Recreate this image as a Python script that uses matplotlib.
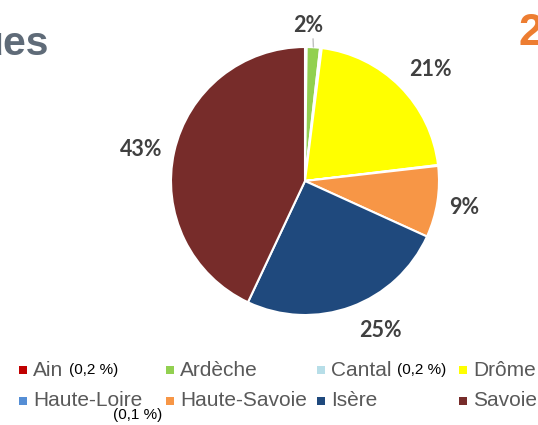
import matplotlib.pyplot as plt
import numpy as np
from matplotlib.patches import Rectangle

# data
departements = ['Ain', 'Ardèche', 'Cantal', 'Drôme', 'Haute-Loire', 'Haute-Savoie', 'Isère', 'Savoie']
parts = [0.2, 1.6, 0.2, 21.1, 0.1, 8.6, 25.2, 43.0]
couleurs = ['#C00000', '#92D050', '#B7DEE8', '#FFFF00', '#558ED5', '#F79646', '#1F497D', '#772C2A']
notes = ['(0,2 %)', '', '(0,2 %)', '', '(0,1 %)', '', '', '']
seuil_label = 1.0

# decalage des etiquettes (pixels) par rapport a la position radiale
decalages = {'Ardèche': (-5, 4), 'Drôme': (8, 6), 'Haute-Savoie': (-5, 1),
             'Isère': (18, -6), 'Savoie': (-2, 5)}

W, H = 538, 425
fig = plt.figure(figsize=(W / 100, H / 100), dpi=100)
fig.patch.set_facecolor('white')

def fx(px):
    return px / W

def fy(py):
    return 1 - py / H

# camembert
cx, cy, r = 305, 181, 134
ax = fig.add_axes([fx(cx - r), fy(cy + r), 2 * r / W, 2 * r / H])
wedges, _ = ax.pie(parts, colors=couleurs, startangle=90, counterclock=False,
                   radius=1, wedgeprops=dict(edgecolor='white', linewidth=1.5))
ax.set_xlim(-1, 1)
ax.set_ylim(-1, 1)
ax.set_aspect('equal')
ax.axis('off')

lab_kw = dict(ha='center', va='center', fontsize=15.5, fontweight='bold',
              family='Lato', color='#404040', annotation_clip=False)
for w, v, nom in zip(wedges, parts, departements):
    if v < seuil_label:
        continue
    ang = np.deg2rad((w.theta1 + w.theta2) / 2)
    dx, dy = decalages.get(nom, (0, 0))
    if v < 3:
        # petite part : etiquette au-dessus avec trait de rappel
        x0 = np.cos(ang)
        ax.annotate(f"{v:.0f}%", xy=(x0, 1.0), xytext=(x0 + dx / r, 1.19 - dy / r),
                    arrowprops=dict(arrowstyle='-', color='#BFBFBF', lw=1,
                                    shrinkA=9, shrinkB=0, relpos=(0.65, 0)),
                    **lab_kw)
        continue
    rr = 1.24
    ax.annotate(f"{v:.0f}%", xy=(rr * np.cos(ang) + dx / r, rr * np.sin(ang) - dy / r),
                **lab_kw)

# legende manuelle (4 colonnes x 2 lignes)
col_x = [19, 166, 317, 459]
row_y = [370, 401]
for i, (nom, c, note) in enumerate(zip(departements, couleurs, notes)):
    row, col = divmod(i, 4)
    x, y = col_x[col], row_y[row]
    fig.patches.append(Rectangle((fx(x), fy(y + 4)), 8 / W, 8 / H, transform=fig.transFigure,
                                 facecolor=c, edgecolor='none'))
    t = fig.text(fx(x + 14), fy(y), nom, ha='left', va='center', fontsize=15,
                 family='Liberation Sans', color='#595959')
    if note:
        if nom == 'Haute-Loire':
            fig.text(fx(138), fy(415), note, ha='center', va='center', fontsize=11,
                     family='Liberation Sans', color='black')
        else:
            fig.text(0, 0, '', transform=fig.transFigure)
            ax.annotate(note, xy=(1, 0.5), xycoords=t, xytext=(4, 0),
                        textcoords='offset points', ha='left', va='center',
                        fontsize=11, family='Liberation Sans', color='black',
                        annotation_clip=False)

# titre coupe a gauche et numero orange a droite
fig.text(fx(49), fy(55), 'ues', ha='right', va='baseline', fontsize=29.5,
         fontweight='bold', family='Liberation Sans', color='#5F6B78')
fig.text(fx(519), fy(45), '2', ha='left', va='baseline', fontsize=32,
         fontweight='bold', family='Liberation Sans', color='#ED7D31')

fig.savefig('out.png', dpi=100, facecolor='white')
